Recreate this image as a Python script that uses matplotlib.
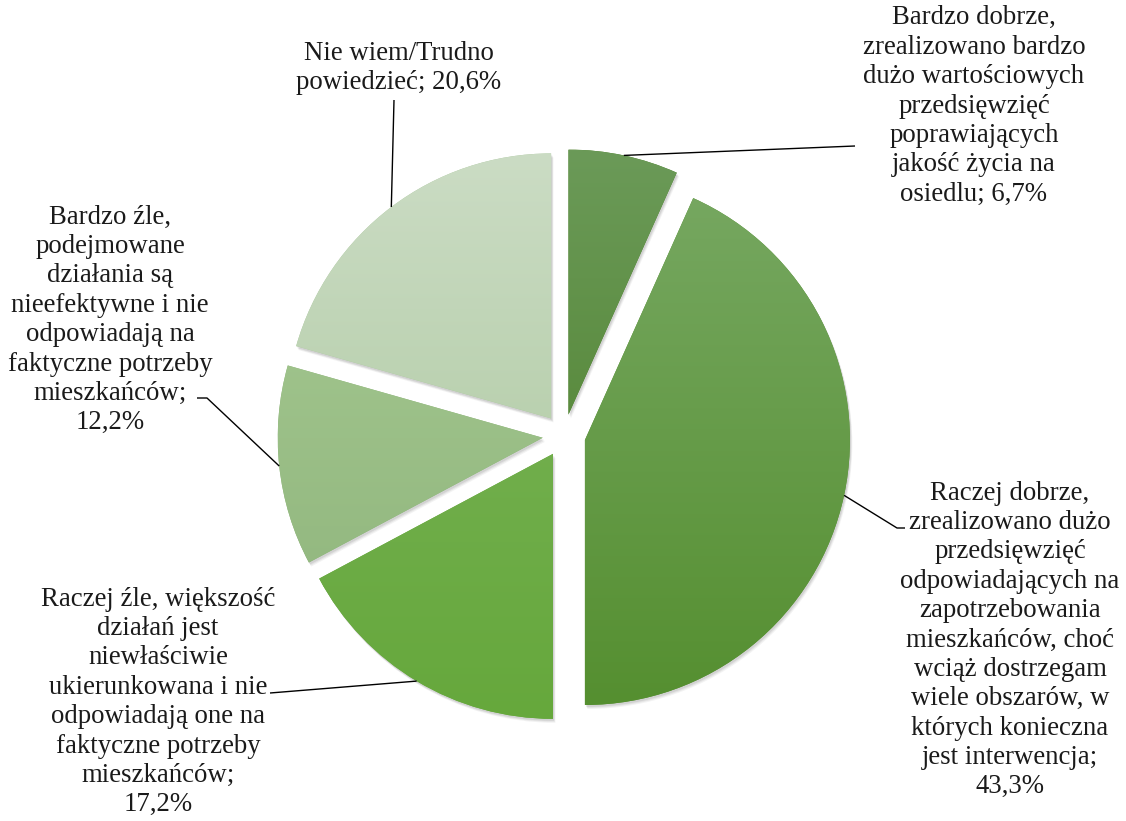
import matplotlib
matplotlib.use("Agg")
import matplotlib.pyplot as plt
import numpy as np
from matplotlib.colors import LinearSegmentedColormap
from matplotlib.patches import Wedge

# ---- data ----
labels = [
    "Bardzo dobrze,\nzrealizowano bardzo\ndużo wartościowych\nprzedsięwzięć\npoprawiających\njakość życia na\nosiedlu",
    "Raczej dobrze,\nzrealizowano dużo\nprzedsięwzięć\nodpowiadających na\nzapotrzebowania\nmieszkańców, choć\nwciąż dostrzegam\nwiele obszarów, w\nktórych konieczna\njest interwencja;",
    "Raczej źle, większość\ndziałań jest\nniewłaściwie\nukierunkowana i nie\nodpowiadają one na\nfaktyczne potrzeby\nmieszkańców;",
    "Bardzo źle,\npodejmowane\ndziałania są\nnieefektywne i nie\nodpowiadają na\nfaktyczne potrzeby\nmieszkańców;",
    "Nie wiem/Trudno\npowiedzieć",
]
values = [6.7, 43.3, 17.2, 12.2, 20.6]
value_texts = ["6,7%", "43,3%", "17,2%", "12,2%", "20,6%"]
label_seps = ["; ", "\n", "\n", "\n", "; "]

top_colors = ["#6b9a58", "#77a862", "#7bb45b", "#a8cb94", "#cbdcc4"]
bot_colors = ["#4a7d26", "#558f30", "#66a83c", "#8db37a", "#a9c69b"]

# ---- layout (pixel coordinates, y measured from top) ----
W, H = 1126, 821
cx, cy_top = 564, 435.5
R = 265
explode_px = 21.4

text_pos = [(974, 106), (1010, 640), (158, 702), (110, 320), (399, 68)]
leader_ends = [
    [(855, 146)],
    [(897, 528), (905, 528)],
    [(270, 693)],
    [(207, 398), (197, 398)],
    [(394, 100)],
]

fig = plt.figure(figsize=(W / 100, H / 100), dpi=100)
ax = fig.add_axes([0, 0, 1, 1])

cy = H - cy_top
wedges, _ = ax.pie(values, startangle=90, counterclock=False, radius=R,
                   center=(cx, cy), explode=[explode_px] * len(values),
                   wedgeprops=dict(linewidth=0), frame=False)

for i, w in enumerate(wedges):
    c = w.center
    t1, t2 = w.theta1, w.theta2
    for off, a in [(4, 0.07), (3, 0.09), (2, 0.12)]:
        sh = Wedge((c[0] + off * 0.6, c[1] - off), w.r, t1, t2, facecolor="#555555",
                   edgecolor="none", alpha=a, zorder=1)
        ax.add_patch(sh)
    w.set_facecolor(bot_colors[i])
    w.set_zorder(2)
    cmap = LinearSegmentedColormap.from_list(f"g{i}", [bot_colors[i], top_colors[i]])
    grad = np.linspace(0, 1, 256).reshape(-1, 1)
    im = ax.imshow(grad, cmap=cmap, origin="lower", aspect="auto",
                   extent=(c[0] - R, c[0] + R, c[1] - R, c[1] + R), zorder=3,
                   interpolation="bilinear")
    im.set_clip_path(w)

for i, w in enumerate(wedges):
    c = w.center
    mid = np.deg2rad((w.theta1 + w.theta2) / 2)
    x0 = c[0] + R * np.cos(mid)
    y0 = c[1] + R * np.sin(mid)
    xs = [x0] + [p[0] for p in leader_ends[i]]
    ys = [y0] + [H - p[1] for p in leader_ends[i]]
    ax.plot(xs, ys, color="black", linewidth=1.0, zorder=4, solid_capstyle="butt")
    tx, ty = text_pos[i]
    ax.text(tx, H - ty, labels[i] + label_seps[i] + value_texts[i],
            ha="center", va="center", multialignment="center",
            fontsize=19.3, family="Liberation Serif", linespacing=1.23,
            color="#1a1a1a", zorder=5)

ax.set_xlim(0, W)
ax.set_ylim(0, H)
ax.set_aspect("equal")
ax.axis("off")

fig.savefig("out.png", dpi=100)
